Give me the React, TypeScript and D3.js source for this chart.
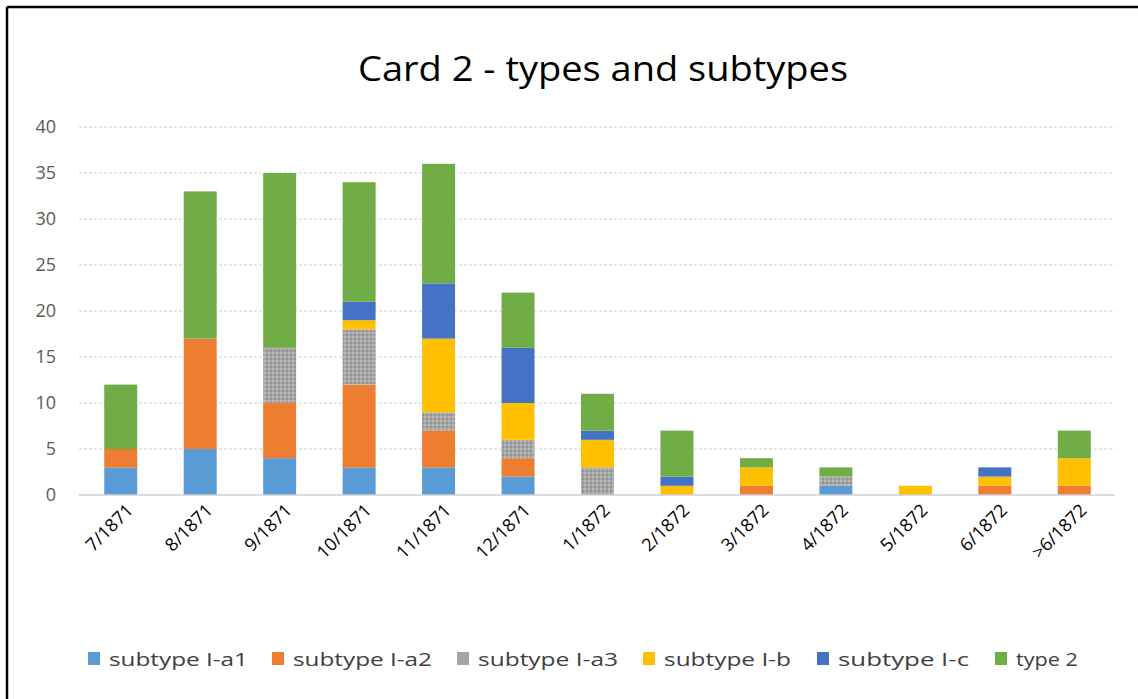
import React from "react";
import * as d3 from "d3";

const categories = ["7/1871", "8/1871", "9/1871", "10/1871", "11/1871", "12/1871", "1/1872", "2/1872", "3/1872", "4/1872", "5/1872", "6/1872", ">6/1872"];
const seriesNames = ["subtype I-a1", "subtype I-a2", "subtype I-a3", "subtype I-b", "subtype I-c", "type 2"];
const subtypeA1 = [3, 5, 4, 3, 3, 2, 0, 0, 0, 1, 0, 0, 0];
const subtypeA2 = [2, 12, 6, 9, 4, 2, 0, 0, 1, 0, 0, 1, 1];
const subtypeA3 = [0, 0, 6, 6, 2, 2, 3, 0, 0, 1, 0, 0, 0];
const subtypeB = [0, 0, 0, 1, 8, 4, 3, 1, 2, 0, 1, 1, 3];
const subtypeC = [0, 0, 0, 2, 6, 6, 1, 1, 0, 0, 0, 1, 0];
const type2 = [7, 16, 19, 13, 13, 6, 4, 5, 1, 1, 0, 0, 3];
const yTicks = [0, 5, 10, 15, 20, 25, 30, 35, 40];
const colors = ["#5B9BD5", "#ED7D31", "url(#a3pat)", "#FFC000", "#4472C4", "#70AD47"];
const legendColors = ["#5B9BD5", "#ED7D31", "#A5A5A5", "#FFC000", "#4472C4", "#70AD47"];

const W = 1138;
const H = 699;
const FONT = "'Open Sans', 'Liberation Sans', sans-serif";

export default function App() {
  const values = [subtypeA1, subtypeA2, subtypeA3, subtypeB, subtypeC, type2];
  const rows = categories.map((c, i) => {
    const r: any = { cat: c };
    seriesNames.forEach((s, j) => (r[s] = values[j][i]));
    return r;
  });
  const stacked = d3.stack().keys(seriesNames)(rows);
  const x = d3.scaleBand().domain(categories).range([81, 1114]).paddingInner(0.585).paddingOuter(0.2925);
  const y = d3.scaleLinear().domain([0, 40]).range([495, 127]);

  const legendX = [88, 272, 457, 643, 817, 995];
  const legendLen = [139, 139, 140, 127, 131, 62];

  return (
    <svg width={W} height={H} style={{ position: "absolute", left: 0, top: 0 }} fontFamily={FONT}>
      <defs>
        <pattern id="a3pat" width="4" height="4" patternUnits="userSpaceOnUse">
          <rect width="4" height="4" fill="#A5A5A5" />
          <rect x="0" y="0" width="2" height="2" fill="#B8B8B8" />
          <rect x="2" y="2" width="2" height="2" fill="#959595" />
        </pattern>
      </defs>
      <rect x={0} y={0} width={W} height={H} fill="#fff" />
      <line x1={7} y1={7} x2={W} y2={7} stroke="#000" strokeWidth={2.5} />
      <line x1={7} y1={7} x2={7} y2={H} stroke="#000" strokeWidth={2.5} />
      <text x={603} y={81} textAnchor="middle" fontSize={35} fill="#000" textLength={490} lengthAdjust="spacingAndGlyphs">
        Card 2 - types and subtypes
      </text>
      {yTicks.map((t) => (
        <g key={t}>
          {t > 0 && (
            <line x1={79} x2={1115} y1={y(t)} y2={y(t)} stroke="#D0D0D0" strokeWidth={1.2} strokeDasharray="3 2" />
          )}
          <text x={56} y={y(t)} dy="0.35em" textAnchor="end" fontSize={18} fill="#595959">
            {t}
          </text>
        </g>
      ))}
      {stacked.map((layer, j) => (
        <g key={layer.key} fill={colors[j]}>
          {layer.map((d, i) =>
            d[1] - d[0] > 0 ? (
              <rect key={i} x={x(categories[i])!} width={x.bandwidth()} y={y(d[1])} height={y(d[0]) - y(d[1])} />
            ) : null
          )}
        </g>
      ))}
      <line x1={79} x2={1115} y1={y(0)} y2={y(0)} stroke="#D0D0D0" strokeWidth={1.5} />
      {categories.map((c) => {
        const cx = x(c)! + x.bandwidth() / 2;
        return (
          <text key={c} transform={`translate(${cx + 9},${507}) rotate(-45)`} textAnchor="end" dy="0.35em" fontSize={18} fill="#000">
            {c}
          </text>
        );
      })}
      {seriesNames.map((s, j) => (
        <g key={s}>
          <rect x={legendX[j]} y={652} width={12} height={13} fill={legendColors[j]} />
          <text x={legendX[j] + 21} y={659} dy="0.35em" fontSize={19} fill="#404040" textLength={legendLen[j]} lengthAdjust="spacingAndGlyphs">
            {s}
          </text>
        </g>
      ))}
    </svg>
  );
}
